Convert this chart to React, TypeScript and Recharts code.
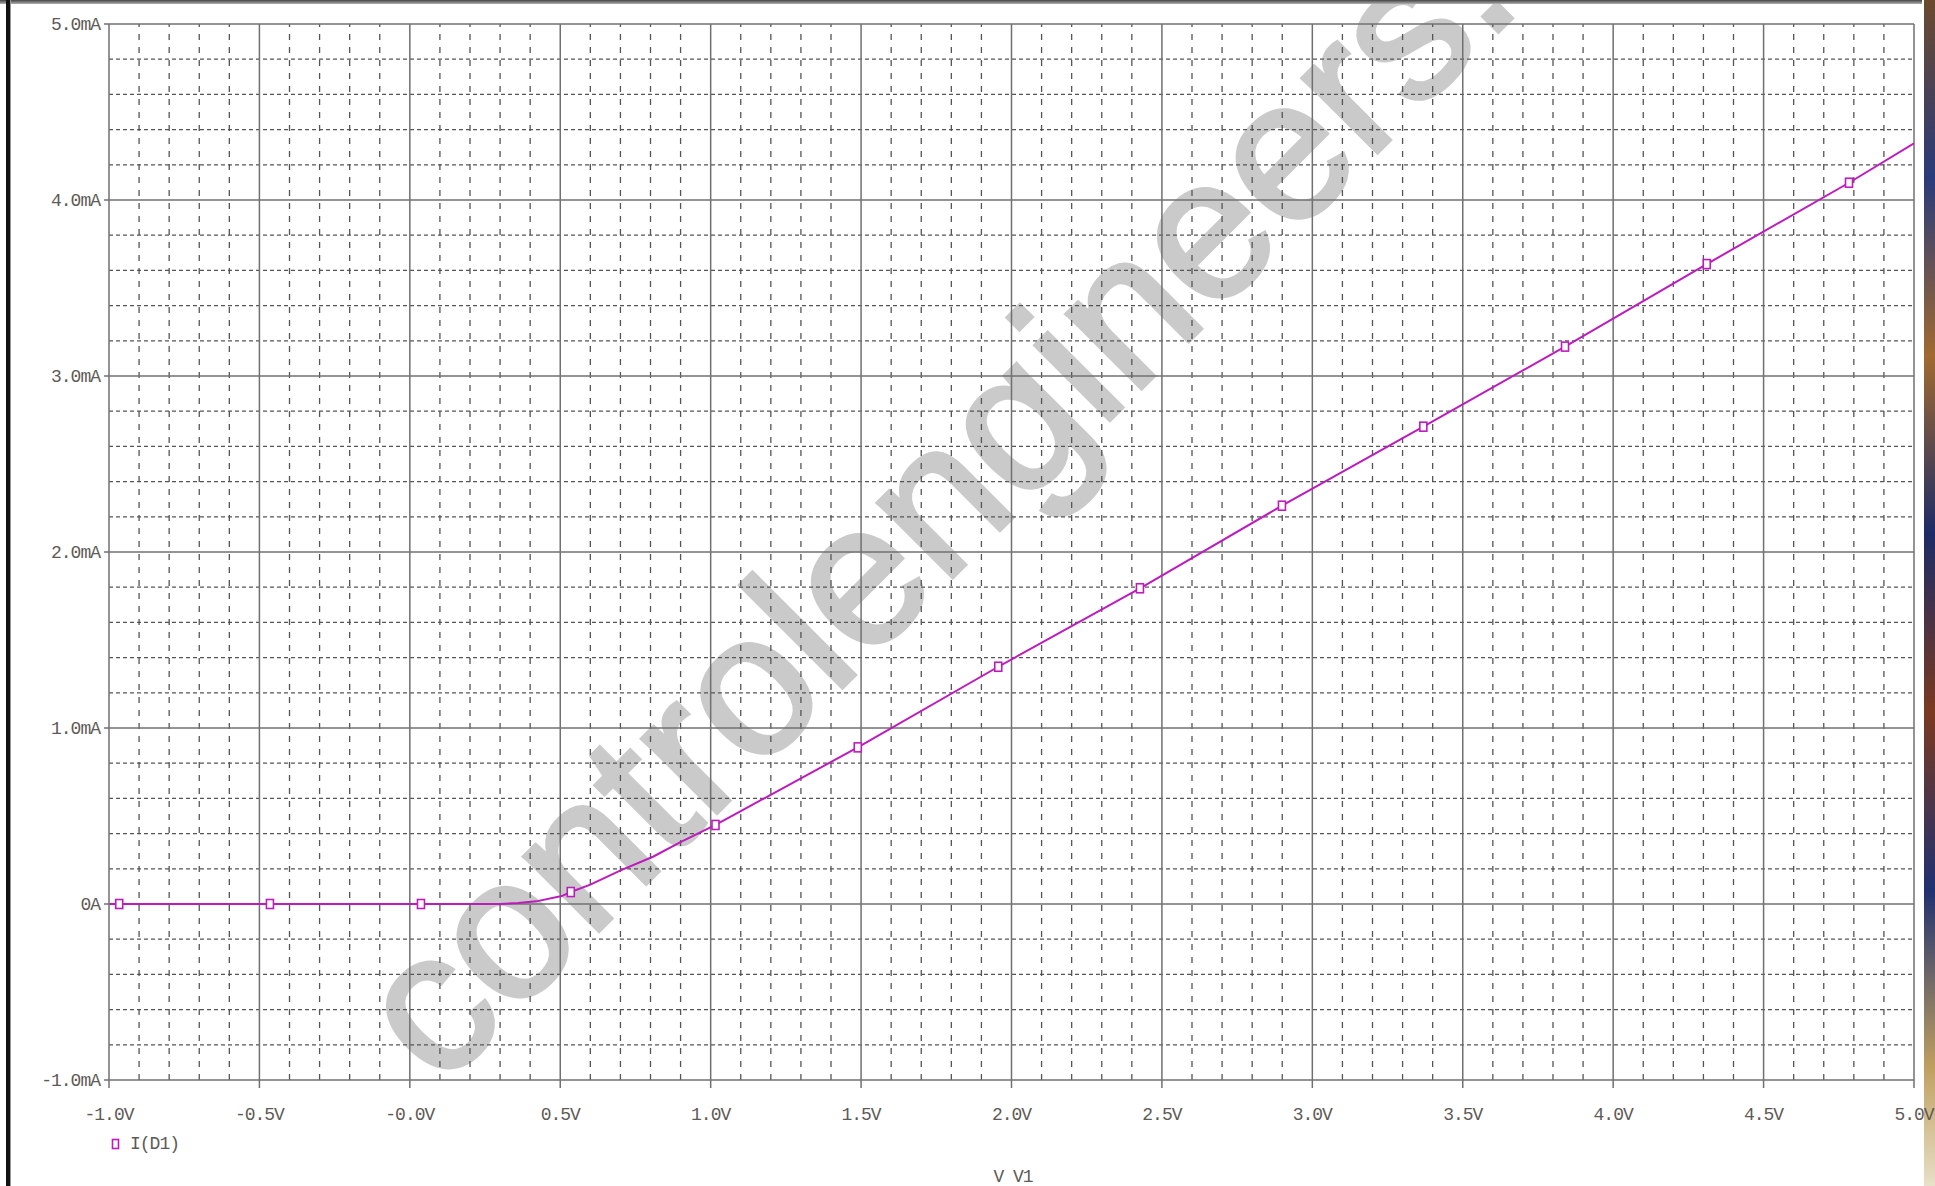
import { ComposedChart, Line, Scatter, XAxis, YAxis, ReferenceLine } from "recharts"

// I(D1) vs V(V1) sweep
const CURVE_V = [-1.0, -0.966, -0.465, 0.037, 0.3, 0.36, 0.42, 0.505, 0.535, 0.6, 0.699, 0.81, 0.898, 1.016, 1.097, 1.489, 1.956, 2.427, 2.899, 3.369, 3.84, 4.311, 4.784, 5.0]
const CURVE_MA = [0, 0, 0, 0, 0, 0.005, 0.015, 0.045, 0.068, 0.11, 0.19, 0.27, 0.35, 0.449, 0.525, 0.89, 1.348, 1.794, 2.263, 2.712, 3.167, 3.636, 4.098, 4.322]

// marker squares along the trace
const MARK_V = [-0.966, -0.465, 0.037, 0.535, 1.016, 1.489, 1.956, 2.427, 2.899, 3.369, 3.84, 4.311, 4.784]
const MARK_MA = [0, 0, 0, 0.068, 0.449, 0.89, 1.348, 1.794, 2.263, 2.712, 3.167, 3.636, 4.098]

const X_TICKS = [-1, -0.5, 0, 0.5, 1, 1.5, 2, 2.5, 3, 3.5, 4, 4.5, 5]
const X_TICK_LABELS = ["-1.0V", "-0.5V", "-0.0V", "0.5V", "1.0V", "1.5V", "2.0V", "2.5V", "3.0V", "3.5V", "4.0V", "4.5V", "5.0V"]
const Y_TICKS = [-1, 0, 1, 2, 3, 4, 5]
const Y_TICK_LABELS = ["-1.0mA", "0A", "1.0mA", "2.0mA", "3.0mA", "4.0mA", "5.0mA"]

const TRACE = "#bd1cbd"
const GRID = "#555"
const MAJOR = "#707070"
const INK = "#5e5a56"
const MONO = "'Liberation Mono', 'DejaVu Sans Mono', monospace"

const curve = CURVE_V.map((v, i) => ({ v, ma: CURVE_MA[i] }))
const marks = MARK_V.map((v, i) => ({ v, ma: MARK_MA[i] }))

// minor grid every 0.1V / 0.2mA, skipping the major lines
const minorX: number[] = []
for (let k = -10; k <= 50; k++) if (k % 5 !== 0) minorX.push(k / 10)
const minorY: number[] = []
for (let k = -5; k <= 25; k++) if (k % 5 !== 0) minorY.push(k / 5)

function MarkSquare(props: any) {
  const { cx, cy } = props
  if (cx == null || cy == null) return null
  return <rect x={cx - 3.5} y={cy - 4.5} width={7} height={9} fill="#fff" stroke={TRACE} strokeWidth={1.6} />
}

const tickStyle = { fontFamily: MONO, fontSize: 18, fill: INK, letterSpacing: -1 }

export default function App() {
  return (
    <div style={{ position: "fixed", left: 0, top: 0, width: 1935, height: 1186, background: "#fff", overflow: "hidden" }}>
      <svg width={1935} height={1186} style={{ position: "absolute", left: 0, top: 0 }}>
        <defs>
          <linearGradient id="topband" x1="0" y1="0" x2="0" y2="1">
            <stop offset="0" stopColor="#444" />
            <stop offset="1" stopColor="#b0b0b0" />
          </linearGradient>
          <linearGradient id="edge" x1="0" y1="0" x2="0" y2="1">
            <stop offset="0" stopColor="#6b4a2e" />
            <stop offset="0.15" stopColor="#2a3a7a" />
            <stop offset="0.3" stopColor="#a06a30" />
            <stop offset="0.45" stopColor="#1d2b66" />
            <stop offset="0.6" stopColor="#7a3a20" />
            <stop offset="0.75" stopColor="#203070" />
            <stop offset="0.9" stopColor="#c0a060" />
            <stop offset="1" stopColor="#e8e0c8" />
          </linearGradient>
        </defs>
        {/* watermark sits under the grid */}
        <text
          x={440}
          y={1090}
          transform="rotate(-45 440 1090)"
          fontFamily="'Liberation Sans', Arial, sans-serif"
          fontSize={200}
          fill="#cacaca"
          stroke="#cacaca"
          strokeWidth={4}
        >
          controlengineers.
        </text>
        <rect x={0} y={0} width={1922} height={4} fill="url(#topband)" />
        <rect x={6} y={0} width={4} height={1186} fill="#111" />
        <rect x={10} y={0} width={1} height={1186} fill="#999" />
        <rect x={1924} y={0} width={11} height={1186} fill="url(#edge)" />
        {/* legend + x axis title */}
        <rect x={112.5} y={1139.5} width={6} height={9} fill="none" stroke={TRACE} strokeWidth={1.6} />
        <text x={130} y={1149} fontFamily={MONO} fontSize={18} letterSpacing={-1} fill={INK}>I(D1)</text>
        <text x={1013} y={1182} textAnchor="middle" fontFamily={MONO} fontSize={18} letterSpacing={-1} fill={INK}>V V1</text>
      </svg>

      <div style={{ position: "absolute", left: 0, top: 0 }}>
        <ComposedChart width={1935} height={1186} data={curve} margin={{ top: 24, right: 21, left: 0, bottom: 66 }}>
          <XAxis
            type="number"
            dataKey="v"
            domain={[-1, 5]}
            ticks={X_TICKS}
            interval={0}
            tickFormatter={(v: number) => X_TICK_LABELS[X_TICKS.indexOf(v)] ?? ""}
            tick={tickStyle}
            tickSize={8}
            tickMargin={19}
            height={40}
            stroke={MAJOR}
            strokeWidth={1.5}
            allowDataOverflow
          />
          <YAxis
            type="number"
            domain={[-1, 5]}
            ticks={Y_TICKS}
            interval={0}
            tickFormatter={(v: number) => Y_TICK_LABELS[Y_TICKS.indexOf(v)] ?? ""}
            tick={tickStyle}
            tickSize={5}
            tickMargin={4}
            width={109}
            stroke={MAJOR}
            strokeWidth={1.5}
            allowDataOverflow
          />
          {minorX.map((v) => (
            <ReferenceLine key={"mx" + v} x={v} stroke={GRID} strokeWidth={1.3} strokeDasharray="6 7" />
          ))}
          {minorY.map((v) => (
            <ReferenceLine key={"my" + v} y={v} stroke={GRID} strokeWidth={1.3} strokeDasharray="4 3" />
          ))}
          {X_TICKS.slice(1).map((v) => (
            <ReferenceLine key={"Mx" + v} x={v} stroke={MAJOR} strokeWidth={1.5} />
          ))}
          {Y_TICKS.slice(1).map((v) => (
            <ReferenceLine key={"My" + v} y={v} stroke={MAJOR} strokeWidth={1.5} />
          ))}
          <Line
            type="linear"
            dataKey="ma"
            stroke={TRACE}
            strokeWidth={2}
            dot={false}
            activeDot={false}
            isAnimationActive={false}
          />
          <Scatter data={marks} dataKey="ma" shape={<MarkSquare />} isAnimationActive={false} />
        </ComposedChart>
      </div>
    </div>
  )
}
